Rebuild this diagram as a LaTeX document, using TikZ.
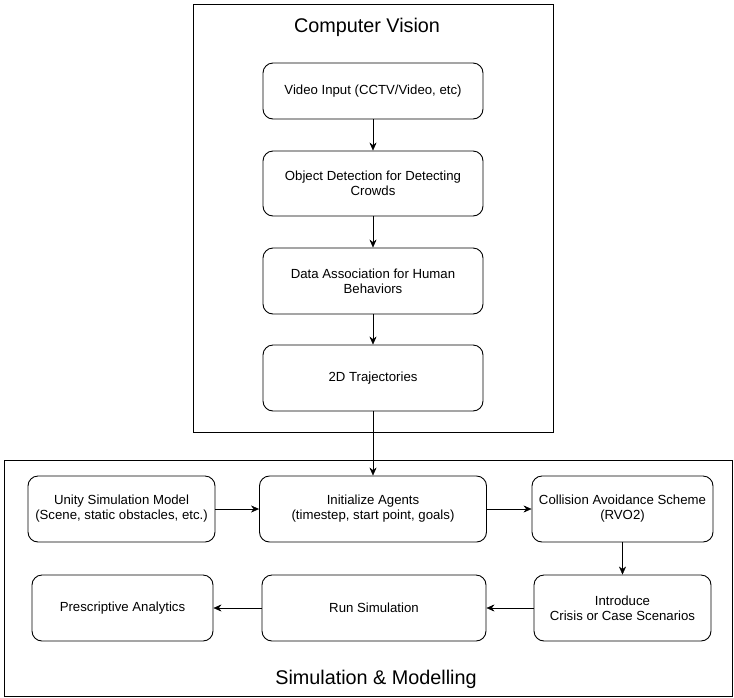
\documentclass[tikz,border=0pt]{standalone}
\usepackage{fontspec}
\setmainfont{Liberation Sans}
\usetikzlibrary{arrows.meta}

\begin{document}
\begin{tikzpicture}[x=1pt,y=-1pt,>={Stealth[length=8pt,width=7pt]},
        font=\fontsize{13.2}{15}\selectfont]
        \tikzstyle{stage}=[draw,rounded corners=10pt,align=center,line width=0.9pt,inner sep=2pt]
        \tikzstyle{panel}=[draw,line width=1pt]
        \tikzstyle{heading}=[font=\fontsize{19.8}{22}\selectfont]
        \useasboundingbox (0,0) rectangle (734,697);

        % the two panels
        \draw[panel] (193,4) rectangle (553,432);
        \draw[panel] (4,460) rectangle (732,696);
        \node[heading](cvtitle) at (367,27){Computer Vision};
        \node[heading](simtitle) at (376,679){Simulation \& Modelling};

        % computer vision chain
        \node[stage,minimum width=220pt,minimum height=56pt](video) at (373,91){Video Input (CCTV/Video, etc)};
        \node[stage,minimum width=220pt,minimum height=65pt](detect) at (373,183.5){Object Detection for Detecting\\Crowds};
        \node[stage,minimum width=220pt,minimum height=66pt](assoc) at (373,281){Data Association for Human\\Behaviors};
        \node[stage,minimum width=220pt,minimum height=66pt](traj) at (373,378){2D Trajectories};

        % simulation row 1
        \node[stage,minimum width=187pt,minimum height=66pt](unity) at (121.5,509){Unity Simulation Model\\(Scene, static obstacles, etc.)};
        \node[stage,minimum width=227pt,minimum height=66pt](init) at (373,509){Initialize Agents\\(timestep, start point, goals)};
        \node[stage,minimum width=181pt,minimum height=66pt](rvo) at (622.5,509){Collision Avoidance Scheme\\(RVO2)};

        % simulation row 2
        \node[stage,minimum width=181pt,minimum height=66pt](presc) at (122.5,608){Prescriptive Analytics};
        \node[stage,minimum width=224pt,minimum height=66pt](run) at (374,608){Run Simulation};
        \node[stage,minimum width=177pt,minimum height=66pt](crisis) at (622.5,608){Introduce\\Crisis or Case Scenarios};

        \draw[->] (video) -- (detect);
        \draw[->] (detect) -- (assoc);
        \draw[->] (assoc) -- (traj);
        \draw[->] (traj) -- (init);

        \draw[->] (unity) -- (init);
        \draw[->] (init) -- (rvo);
        \draw[->] (rvo) -- (crisis);
        \draw[->] (crisis) -- (run);
        \draw[->] (run) -- (presc);
\end{tikzpicture}
\end{document}
